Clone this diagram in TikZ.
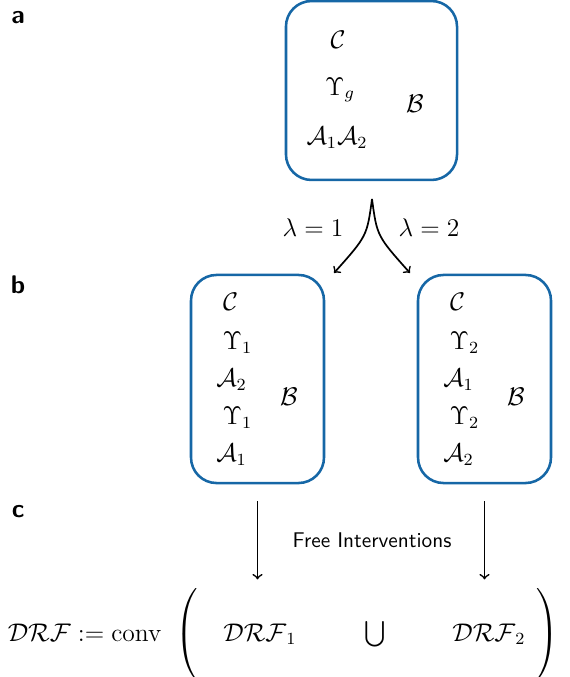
\documentclass[tikz,border=0pt]{standalone}
\usepackage{amsmath}
\definecolor{boxblue}{RGB}{22,103,166}
\tikzset{
  frame/.style={draw=boxblue, line width=1.2pt, rounded corners=12pt, inner sep=0pt},
  mth/.style={font=\large, inner sep=0pt},
  panel/.style={font=\large\sffamily\bfseries, inner sep=0pt},
}
\begin{document}
\begin{tikzpicture}[x=0.47pt, y=-0.47pt, >=to, line width=0.8pt]
\useasboundingbox (0,0) rectangle (569,677);
% panel letters
\node[panel] (pa) at (18,18) {a};
\node[panel] (pb) at (18,285) {b};
\node[panel] (pc) at (18,512) {c};
% a
\node[frame, minimum width=80.4pt, minimum height=84.1pt] (boxg) at (371.5,90.5) {};
\node[mth] (cg) at (338,40) {$\mathcal{C}$};
\node[mth] (ug) at (340,90) {$\Upsilon_g$};
\node[mth] (bg) at (415,104) {$\mathcal{B}$};
\node[mth] (ag) at (337,138) {$\mathcal{A}_1\mathcal{A}_2$};
% split
\coordinate (split) at (372,199);
\coordinate (tol) at (334,273);
\coordinate (tor) at (410,273);
\draw[->] (split) .. controls (367,236) .. (tol);
\draw[->] (split) .. controls (377,236) .. (tor);
\node[mth] (lam1) at (313,228) {$\lambda=1$};
\node[mth] (lam2) at (429,228) {$\lambda=2$};
% b
\foreach \x/\i/\j in {257.5/1/2, 484.5/2/1} {
    \node[frame, minimum width=62.5pt, minimum height=97.8pt] (box\i) at (\x,379) {};
    \node[mth] (c\i) at (\x-27,302) {$\mathcal{C}$};
    \node[mth] (u\i) at (\x-20,343) {$\Upsilon_\i$};
    \node[mth] (a\i) at (\x-26,380) {$\mathcal{A}_\j$};
    \node[mth] (v\i) at (\x-20,418) {$\Upsilon_\i$};
    \node[mth] (e\i) at (\x-26,455) {$\mathcal{A}_\i$};
    \node[mth] (b\i) at (\x+31.5,397) {$\mathcal{B}$};
    \draw[->] ([yshift=-8pt]box\i.south) -- ([yshift=-44.7pt]box\i.south);
}
\node[font=\sffamily, inner sep=0pt] (free) at (372,540) {Free Interventions};
% c
\node[mth, anchor=base west] (drf) at (7,641) {$\mathcal{DRF} := \mathrm{conv}$};
\node[mth] (lp) at (188,635) {$\left(\vrule height 19pt depth 19pt width 0pt\right.$};
\node[mth, anchor=base] (drf1) at (260,641) {$\mathcal{DRF}_1$};
\node[mth, anchor=base] (cup) at (375,641) {$\bigcup$};
\node[mth, anchor=base] (drf2) at (489,641) {$\mathcal{DRF}_2$};
\node[mth] (rp) at (546,635) {$\left.\vrule height 19pt depth 19pt width 0pt\right)$};
\end{tikzpicture}
\end{document}
